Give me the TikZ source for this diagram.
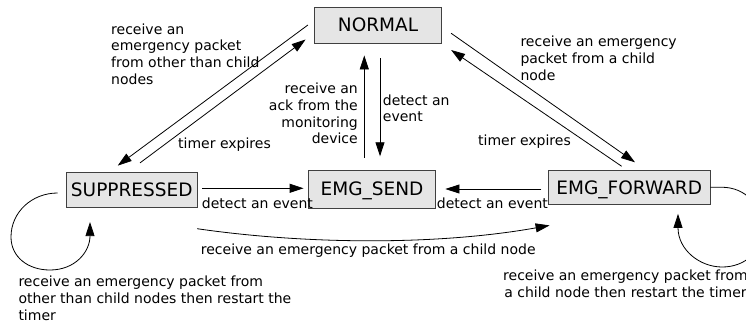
\documentclass[tikz,border=0pt]{standalone}
\usepackage{fontspec}
\setmainfont{DejaVu Sans}
\usetikzlibrary{arrows.meta}
\begin{document}
\begin{tikzpicture}[x=1pt,y=-1pt,
  state/.style={draw=black!75,fill=black!10,line width=0.8pt,inner sep=0pt,
    text height=13.5pt,text depth=0pt,font=\fontsize{18.5}{22}\selectfont},
  lbl/.style={inner sep=0pt,font=\fontsize{14}{16.7}\selectfont},
  arr/.style={line width=0.8pt,-{Triangle[length=14pt,width=9pt]}}]
\useasboundingbox (0,0) rectangle (746,329);
% states
\node[state,minimum width=127pt,minimum height=36.5pt] (normal) at (378,25.25) {NORMAL};
\node[state,minimum width=131.5pt,minimum height=35pt] (sup) at (131.75,189.5) {SUPPRESSED};
\node[state,minimum width=127pt,minimum height=38pt] (send) at (372,189) {EMG\_SEND};
\node[state,minimum width=161.5pt,minimum height=33.5pt] (fwd) at (629.25,187.25) {EMG\_FORWARD};
% diagonal connectors
\draw[arr] ([shift={(-6.2,-0.25)}]normal.west) -- ([shift={(-14,-6)}]sup.north);
\draw[arr] ([shift={(8.25,-8.7)}]sup.north) -- ([shift={(-8.5,14.25)}]normal.west);
\draw[arr] ([shift={(9.2,8)}]normal.east) -- ([shift={(5.75,-7.8)}]fwd.north);
\draw[arr] ([shift={(-7.55,-3.8)}]fwd.north) -- ([shift={(9.2,24.75)}]normal.east);
% vertical connectors
\draw[arr] ([shift={(-7.7,-12)}]send.north) -- ([shift={(-13.7,11.5)}]normal.south);
\draw[arr] ([shift={(2,14.5)}]normal.south) -- ([shift={(8,-13.3)}]send.north);
% horizontal connectors
\draw[arr] ([shift={(4.2,-1.2)}]sup.east) -- ([shift={(-4.5,-0.7)}]send.west);
\draw[arr] ([shift={(-6.8,1.75)}]fwd.west) -- ([shift={(9.5,0)}]send.east);
% bottom curve
\draw[arr] ([shift={(-0.8,21.3)}]sup.south east) .. controls (310,245) and (440,245) .. ([shift={(1.5,21)}]fwd.south west);
% self loops
\draw[arr] ([shift={(-8,3.5)}]sup.west) .. controls (32,193) and (11,212) .. (11,237)
  .. controls (11,257) and (28,270) .. (50,270)
  .. controls (75,270) and (90,252) .. ([shift={(-41.75,14.7)}]sup.south);
\draw[arr] (fwd.east) -- (722,187.25) .. controls (745,187.25) and (762,205) .. (762,228)
  .. controls (762,252) and (745,267) .. (722,267)
  .. controls (700,267) and (678,250) .. ([shift={(48.75,9.5)}]fwd.south);
% labels
\node[lbl,align=left,anchor=north west] (l1) at (111,22.31) {\strut receive an\\emergency packet\\from other than child\\nodes};
\node[lbl,align=right,anchor=north east] (l2) at (358,81.8) {\strut receive an\\ack from the\\monitoring\\device};
\node[lbl,align=left,anchor=north west] (l3) at (382.7,93.3) {\strut detect an\\event};
\node[lbl,align=left,anchor=north west] (l4) at (520.3,34.8) {\strut receive an emergency\\packet from a child\\node};
\node[lbl,anchor=base west] (l5) at (178,148) {timer expires};
\node[lbl,anchor=base west] (l6) at (478,145) {timer expires};
\node[lbl,anchor=base west] (l7) at (201.7,208) {detect an event};
\node[lbl,anchor=base west] (l8) at (436.7,208.5) {detect an event};
\node[lbl,anchor=base west] (l9) at (200.7,254) {receive an emergency packet from a child node};
\node[lbl,align=left,anchor=north west] (l10) at (18.3,275) {\strut receive an emergency packet from\\other than child nodes then restart the\\timer};
\node[lbl,align=center,anchor=north west] (l11) at (503,269) {\strut receive an emergency packet from\\a child node then restart the timer};
\end{tikzpicture}
\end{document}
